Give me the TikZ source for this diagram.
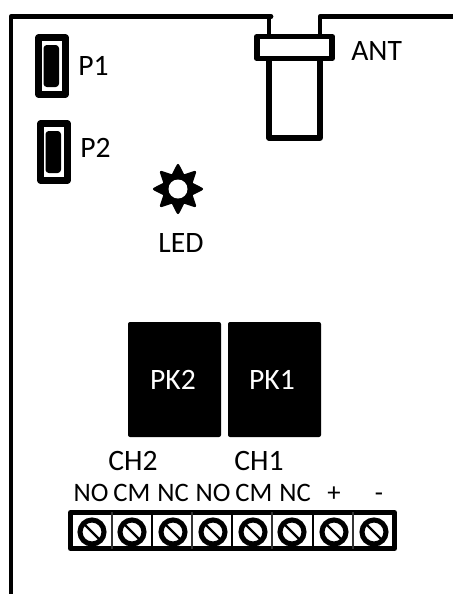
\documentclass[tikz,border=0pt]{standalone}
\usepackage{fontspec}
\setmainfont{Carlito}
\usetikzlibrary{shapes.geometric}
\tikzset{
  board/.style={draw=black, line width=3.6pt, line join=round},
  jumper/.style={draw=black, line width=4.6pt, line join=round, fill=white},
  jumperpin/.style={fill=black, rounded corners=2.5pt},
  relay/.style={fill=black, rounded corners=1.5pt},
  label/.style={font=\fontsize{22.2pt}{24pt}\selectfont, text=black, inner sep=0pt},
  pinlabel/.style={label, font=\fontsize{20pt}{22pt}\selectfont, anchor=base},
  relaylabel/.style={label, text=white},
  screw/.style={draw=black, line width=3.8pt, fill=white},
  slot/.style={draw=black, line width=1.6pt},
  thinwall/.style={draw=black!80, line width=1pt},
  thickwall/.style={draw=black, line width=2.2pt}
}
\begin{document}
\begin{tikzpicture}[x=0.75pt, y=-0.75pt]
      \useasboundingbox (0, 0) rectangle (453, 594);
      \draw[board] (11, 594)--(11, 16.5)--(271, 16.5)--(269, 16.5)--(269, 36);
      \draw[board] (320, 36)--(320, 16.5)--(453, 16.5);
      \draw[board, line width=3.8pt] (269, 60)--(269, 138)--(320, 138)--(320, 60);
      \draw[jumper, line width=4.4pt] (257, 36.5) rectangle (332, 58.5);
      \node[label, anchor=west] (ant) at (351, 51) {ANT};
      \draw[jumper] (38.5, 37.5) rectangle (65.5, 94.5);
      \fill[jumperpin] (43.5, 45) rectangle (59, 87);
      \node[label, anchor=west] (p1) at (78, 66) {P1};
      \draw[jumper] (40.5, 123.5) rectangle (67.5, 180.5);
      \fill[jumperpin] (45.5, 131) rectangle (61, 173);
      \node[label, anchor=west] (p2) at (80, 148) {P2};
      \node[star, star points=8, star point ratio=1.68, fill=black, draw=black, line width=2pt, line join=round, minimum size=47.5*0.75pt, inner sep=0pt] (led) at (178, 189) {};
      \fill[white] (led.center) circle (9.5);
      \node[label] (ledtext) at (181, 243) {LED};
      \fill[relay] (128, 322) rectangle (221, 437);
      \node[relaylabel] (pk2) at (173, 380) {PK2};
      \fill[relay] (228, 322) rectangle (321, 437);
      \node[relaylabel] (pk1) at (272, 380) {PK1};
      \node[label] (ch2) at (133, 461) {CH2};
      \node[label] (ch1) at (259, 461) {CH1};
      \node[pinlabel] (no2) at (91, 501) {NO};
      \node[pinlabel] (cm2) at (132, 501) {CM};
      \node[pinlabel] (nc2) at (173, 501) {NC};
      \node[pinlabel] (no1) at (213, 501) {NO};
      \node[pinlabel] (cm1) at (254, 501) {CM};
      \node[pinlabel] (nc1) at (295, 501) {NC};
      \node[pinlabel] (plus) at (334, 501) {+};
      \node[pinlabel] (minus) at (379, 501) {-};
      \draw[board, line width=3.8pt, fill=white] (70.5, 512.5) rectangle (394.5, 548.5);
      \draw[thinwall] (112, 512)--(112, 549);
      \draw[thickwall] (152, 512)--(152, 549);
      \draw[thinwall] (192, 512)--(192, 549);
      \draw[thickwall] (232, 512)--(232, 549);
      \draw[thinwall] (272, 512)--(272, 549);
      \draw[thickwall] (313, 512)--(313, 549);
      \draw[thinwall] (353, 512)--(353, 549);
      \draw[screw] (92, 532) circle (12);
      \draw[slot] (84, 524)--(100, 540);
      \draw[screw] (132, 532) circle (12);
      \draw[slot] (124, 524)--(140, 540);
      \draw[screw] (173, 532) circle (12);
      \draw[slot] (165, 524)--(181, 540);
      \draw[screw] (213, 532) circle (12);
      \draw[slot] (205, 524)--(221, 540);
      \draw[screw] (253, 532) circle (12);
      \draw[slot] (245, 524)--(261, 540);
      \draw[screw] (292, 532) circle (12);
      \draw[slot] (284, 524)--(300, 540);
      \draw[screw] (334, 532) circle (12);
      \draw[slot] (326, 524)--(342, 540);
      \draw[screw] (374, 532) circle (12);
      \draw[slot] (366, 524)--(382, 540);
    \end{tikzpicture}
\end{document}
